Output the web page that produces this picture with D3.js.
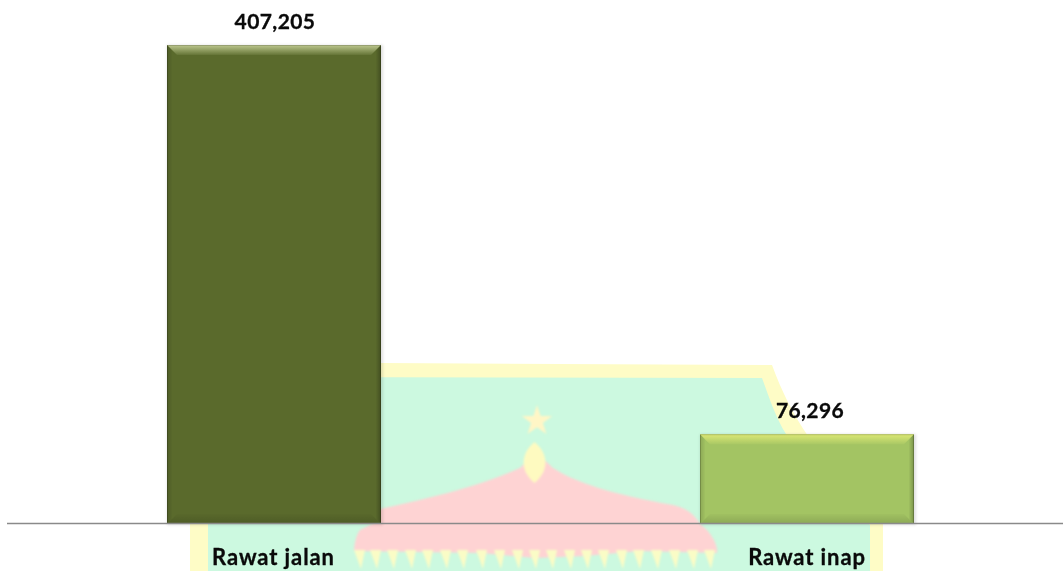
<!DOCTYPE html>
<html><head><meta charset="utf-8">
<script src="https://cdn.jsdelivr.net/npm/d3@7"></script>
<style>html,body{margin:0;padding:0;background:#fff}svg{display:block}</style>
</head><body><div id="c"></div>
<script>
const categories = ["Rawat jalan","Rawat inap"];
const values = [407205,76296];
const barColors = ["#5a6a2c","#a3c463"];
const topGlow = ["#dfe8b0","#f0f57a"];
const toothCentres = [360,376,393,411,428,446,463,482,500,518,535,552,570,587,604,622,639,657,675,693,710];
const width=1063,height=571;
const svg=d3.select("#c").append("svg").attr("width",width).attr("height",height);
const defs=svg.append("defs");
defs.append("filter").attr("id","soft").append("feGaussianBlur").attr("stdDeviation",0.8);
const wm=svg.append("g").attr("class","watermark");
wm.append("path").attr("fill","#fefcc6").attr("d","M190 571V362L772 365C782 392 793 414 808 436L883 523V571Z");
wm.append("path").attr("fill","#ccf9e0").attr("d","M208 571V377L762 378C770 400 776 418 786 434L870 525V571Z");
const sg=wm.append("g").attr("filter","url(#soft)");
sg.append("path").attr("fill","#fed3d3").attr("d","M376 510C420 500 470 490 520 468L536 452L553 468C575 482 610 494 673 505C685 508 693 512 700 524L707 530C714 538 718 547 717 553L640 551L585 556L535 558L480 553L354 551C354 545 356 535 360 530L376 522Z");
sg.append("path").attr("fill","#fff6c6").attr("transform","translate(537,421)").attr("d",d3.symbol().type(d3.symbolStar).size(290));
sg.append("path").attr("fill","#fefac0").attr("d","M534.5 442C548 453 550 470 534.5 483C519 470 521 453 534.5 442Z");
sg.selectAll("path.t").data(toothCentres).join("path").attr("class","t").attr("fill","#fafcc6")
  .attr("d",d=>`M${d-6} 550L${d+5} 550L${d+1} 569Z`);

const x=d3.scalePoint().domain(categories).range([274,807]);
const bw=214;
const y=d3.scaleLinear().domain([0,407205]).range([524,45]);

function lg(id,stops,x1,y1,x2,y2){const g=defs.append("linearGradient").attr("id",id).attr("x1",x1).attr("y1",y1).attr("x2",x2).attr("y2",y2);
 stops.forEach(s=>g.append("stop").attr("offset",s[0]).attr("stop-color",s[1]).attr("stop-opacity",s[2]));}
topGlow.forEach((c,i)=>lg("t"+i,[[0,c,.75],[1,c,.08]],0,0,0,1));
lg("b",[[0,"#000",.02],[1,"#000",.14]],0,0,0,1);
lg("l",[[0,"#000",.14],[1,"#000",.02]],0,0,1,0);
lg("r",[[0,"#000",.02],[1,"#000",.26]],0,0,1,0);
defs.append("filter").attr("id","sh").attr("x","-10%").attr("y","-10%").attr("width","120%").attr("height","120%")
  .append("feGaussianBlur").attr("stdDeviation",1.5);
const tb=10, sb=5;
svg.append("g").selectAll("g").data(categories).join("g").each(function(c,i){
 const g=d3.select(this),X=x(c)-bw/2,T=y(values[i]),B=y(0),W=bw,H=B-T,R=X+W;
 g.append("rect").attr("x",X).attr("y",T).attr("width",W+2).attr("height",H+1).attr("fill","#000").attr("opacity",.12).attr("filter","url(#sh)");
 g.append("rect").attr("x",X).attr("y",T).attr("width",W).attr("height",H).attr("fill",barColors[i]);
 g.append("path").attr("fill",`url(#t${i})`).attr("d",`M${X} ${T}H${R}L${R-tb} ${T+tb}H${X+tb}Z`);
 g.append("path").attr("fill","url(#b)").attr("d",`M${X} ${B}H${R}L${R-tb} ${B-tb}H${X+tb}Z`);
 g.append("path").attr("fill","url(#l)").attr("d",`M${X} ${T}V${B}L${X+sb} ${B-sb}V${T+sb}Z`);
 g.append("path").attr("fill","url(#r)").attr("d",`M${R} ${T}V${B}L${R-sb} ${B-sb}V${T+sb}Z`);
 g.append("rect").attr("x",X+.5).attr("y",T+.5).attr("width",W-1).attr("height",H-1).attr("fill","none").attr("stroke","#000").attr("stroke-opacity",.18);
});
svg.append("line").attr("x1",7).attr("x2",1063).attr("y1",523.5).attr("y2",523.5).attr("stroke","#8a8a8a").attr("stroke-width",1.3);
const font="Lato, Carlito, 'Open Sans', sans-serif";
svg.append("g").selectAll("text").data(values).join("text")
 .attr("x",(d,i)=>[275,810][i]).attr("y",d=>y(d)-16.5).attr("text-anchor","middle")
 .attr("font-family",font).attr("font-weight",700).attr("font-size",21).attr("letter-spacing",0.4).attr("fill","#0a0a0a").attr("stroke","#0a0a0a").attr("stroke-width",0.3)
 .text(d=>d3.format(",")(d));
svg.append("g").selectAll("text").data(categories).join("text")
 .attr("x",(d,i)=>[273.5,807][i]).attr("y",565).attr("text-anchor","middle")
 .attr("font-family",font).attr("font-weight",700).attr("font-size",22).attr("letter-spacing",0.9).attr("fill","#0a0a0a").attr("stroke","#0a0a0a").attr("stroke-width",0.3)
 .text(d=>d);
</script></body></html>
